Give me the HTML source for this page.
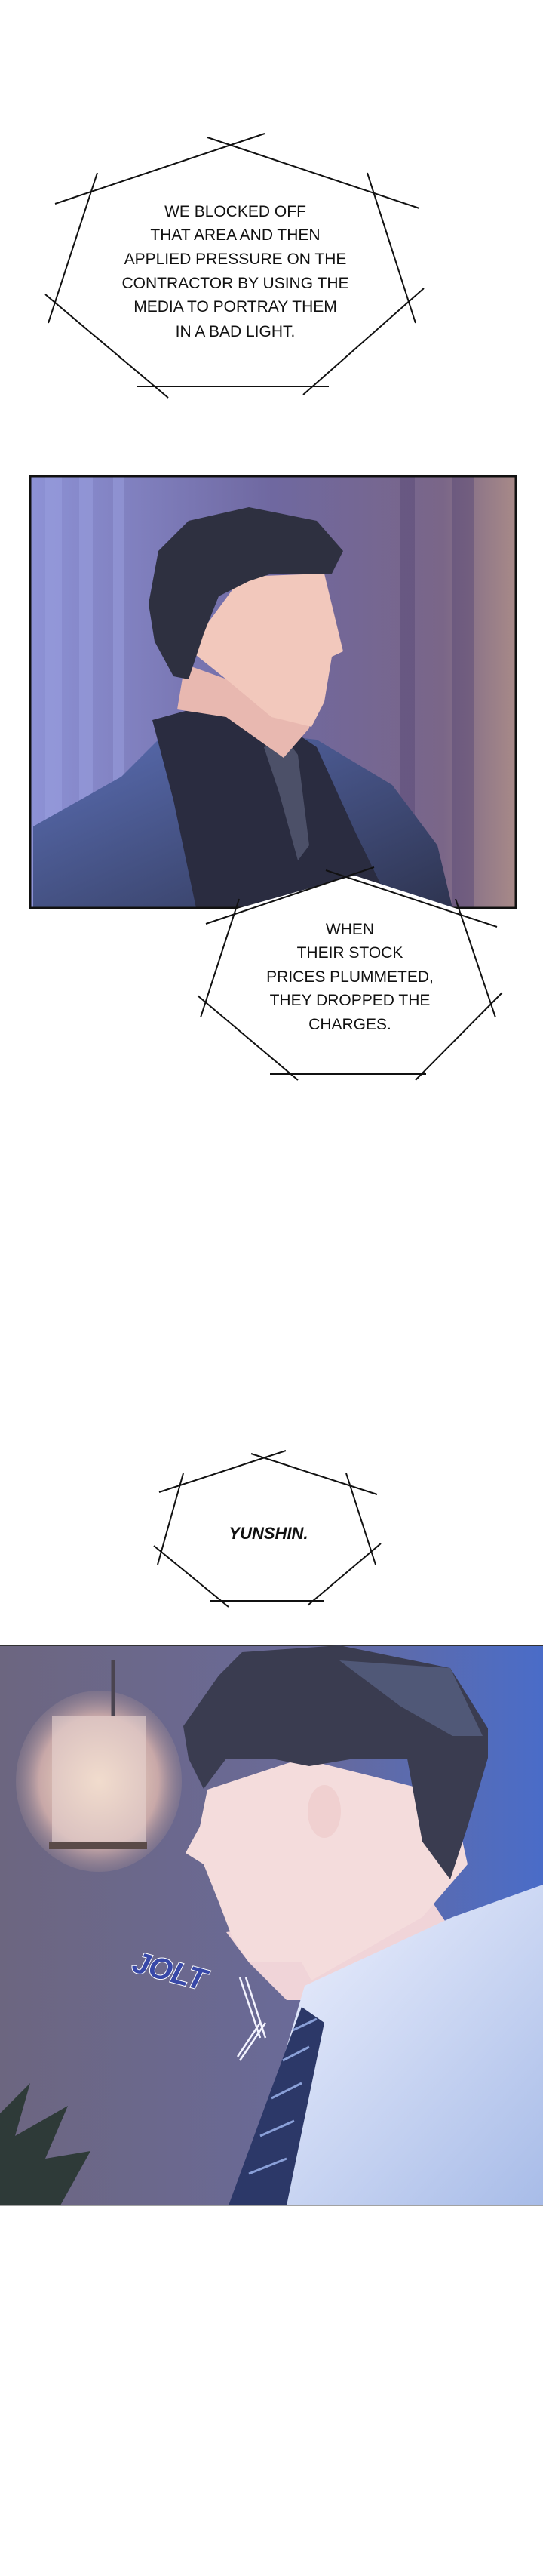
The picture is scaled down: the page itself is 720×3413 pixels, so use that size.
<!DOCTYPE html>
<html><head><meta charset="utf-8"><style>
html,body{margin:0;padding:0;background:#fff;}
svg{display:block;}
</style></head><body>
<svg width="720" height="3413" viewBox="0 0 720 3413" xmlns="http://www.w3.org/2000/svg">
<defs>
<linearGradient id="bg1" x1="0" y1="0" x2="1" y2="0">
<stop offset="0" stop-color="#8d92d6"/><stop offset="0.5" stop-color="#6f68a0"/><stop offset="0.85" stop-color="#7a6688"/><stop offset="1" stop-color="#a88a88"/>
</linearGradient>
<linearGradient id="bg2" x1="0" y1="0" x2="1" y2="0">
<stop offset="0" stop-color="#6c6680"/><stop offset="0.55" stop-color="#6a6a98"/><stop offset="1" stop-color="#4a6cc8"/>
</linearGradient>
<linearGradient id="suit" x1="0" y1="0" x2="1" y2="1">
<stop offset="0" stop-color="#5c70b8"/><stop offset="1" stop-color="#2e3450"/>
</linearGradient>
<radialGradient id="lamp" cx="0.5" cy="0.5" r="0.6">
<stop offset="0" stop-color="#ffe8c8"/><stop offset="0.6" stop-color="#c8a8a8"/><stop offset="1" stop-color="#6c6680" stop-opacity="0"/>
</radialGradient>
<linearGradient id="shirt" x1="0" y1="0" x2="1" y2="1">
<stop offset="0" stop-color="#f2f4ff"/><stop offset="1" stop-color="#a8bce8"/>
</linearGradient>
</defs>

<g stroke="#111" stroke-width="2" fill="none">
<line x1="73" y1="270" x2="351" y2="177"/>
<line x1="275" y1="182" x2="556" y2="276"/>
<line x1="129" y1="229" x2="64" y2="428"/>
<line x1="487" y1="229" x2="551" y2="428"/>
<line x1="60" y1="390" x2="223" y2="527"/>
<line x1="562" y1="382" x2="402" y2="523"/>
<line x1="181" y1="512" x2="436" y2="512"/>
</g>
<g font-family="Liberation Sans, sans-serif" font-size="21" fill="#111" text-anchor="middle">
<text x="312" y="287">WE BLOCKED OFF</text>
<text x="312" y="318">THAT AREA AND THEN</text>
<text x="312" y="350">APPLIED PRESSURE ON THE</text>
<text x="312" y="382">CONTRACTOR BY USING THE</text>
<text x="312" y="413">MEDIA TO PORTRAY THEM</text>
<text x="312" y="446">IN A BAD LIGHT.</text>
</g>

<rect x="40" y="631" width="644" height="572" fill="url(#bg1)"/>
<g fill="#9aa0e0" opacity="0.5">
<rect x="60" y="631" width="22" height="572"/><rect x="105" y="631" width="18" height="572"/><rect x="150" y="631" width="14" height="572"/>
</g>
<g fill="#5a4a78" opacity="0.5">
<rect x="530" y="631" width="20" height="572"/><rect x="600" y="631" width="28" height="572"/>
</g>
<path d="M44 1095 L161 1029 L230 960 L420 980 L520 1040 L580 1120 L600 1203 L44 1203 Z" fill="url(#suit)"/>
<path d="M202 954 L290 930 L376 960 L420 990 L470 1100 L520 1203 L260 1203 L230 1060 Z" fill="#2a2c40"/>
<path d="M350 990 L380 980 L395 1000 L410 1120 L395 1140 L370 1050 Z" fill="#4c5068"/>
<path d="M245 880 L235 940 L300 950 L376 1004 L410 965 L413 940 Z" fill="#e8b8b0"/>
<path d="M321 764 L430 760 L455 863 L440 870 L430 930 L413 963 L360 950 L300 900 L250 860 Z" fill="#f2c8bc"/>
<ellipse cx="245" cy="838" rx="18" ry="28" fill="#e8b0a8"/>
<path d="M197 800 L210 730 L250 690 L330 672 L420 690 L455 730 L440 760 L360 760 L330 770 L290 790 L270 840 L250 900 L230 896 L205 850 Z" fill="#2e3040"/>
<rect x="40" y="631" width="644" height="572" fill="none" stroke="#111" stroke-width="3"/>

<path d="M300 1208 L470 1160 L640 1215 L650 1320 L555 1420 L370 1420 L275 1330 Z" fill="#fff"/>
<g stroke="#111" stroke-width="2" fill="none">
<line x1="273" y1="1224" x2="496" y2="1149"/>
<line x1="432" y1="1153" x2="659" y2="1228"/>
<line x1="317" y1="1191" x2="266" y2="1348"/>
<line x1="604" y1="1191" x2="657" y2="1348"/>
<line x1="262" y1="1319" x2="395" y2="1431"/>
<line x1="666" y1="1315" x2="551" y2="1431"/>
<line x1="358" y1="1423" x2="565" y2="1423"/>
</g>
<g font-family="Liberation Sans, sans-serif" font-size="21" fill="#111" text-anchor="middle">
<text x="464" y="1238">WHEN</text>
<text x="464" y="1269">THEIR STOCK</text>
<text x="464" y="1301">PRICES PLUMMETED,</text>
<text x="464" y="1332">THEY DROPPED THE</text>
<text x="464" y="1364">CHARGES.</text>
</g>

<g stroke="#111" stroke-width="2" fill="none">
<line x1="211" y1="1977" x2="379" y2="1922"/>
<line x1="333" y1="1926" x2="500" y2="1980"/>
<line x1="243" y1="1952" x2="209" y2="2073"/>
<line x1="459" y1="1952" x2="498" y2="2073"/>
<line x1="204" y1="2048" x2="303" y2="2129"/>
<line x1="505" y1="2045" x2="408" y2="2127"/>
<line x1="278" y1="2121" x2="429" y2="2121"/>
</g>
<text x="356" y="2039" font-family="Liberation Sans, sans-serif" font-size="22" font-weight="bold" font-style="italic" fill="#111" text-anchor="middle">YUNSHIN.</text>

<rect x="0" y="2180" width="720" height="742" fill="url(#bg2)"/>
<line x1="0" y1="2180" x2="720" y2="2180" stroke="#333" stroke-width="2"/>
<ellipse cx="131" cy="2360" rx="110" ry="120" fill="url(#lamp)"/>
<rect x="69" y="2273" width="124" height="175" fill="#e8d4d0" opacity="0.6"/>
<line x1="150" y1="2200" x2="150" y2="2273" stroke="#4a4450" stroke-width="5"/>
<rect x="65" y="2440" width="130" height="10" fill="#5a4a48"/>
<path d="M0 2800 L40 2760 L20 2830 L90 2790 L60 2860 L120 2850 L80 2922 L0 2922 Z" fill="#2e3a38"/>
<path d="M300 2560 L420 2540 L560 2500 L600 2560 L430 2650 L380 2650 L330 2600 Z" fill="#f0d4d8"/>
<path d="M404 2631 L600 2540 L720 2497 L720 2922 L330 2922 L360 2780 Z" fill="url(#shirt)"/>
<path d="M400 2659 L430 2680 L380 2922 L303 2922 Z" fill="#2c3868"/>
<g stroke="#8aa0d8" stroke-width="3"><line x1="330" y1="2880" x2="380" y2="2860"/><line x1="345" y1="2830" x2="390" y2="2810"/><line x1="360" y1="2780" x2="400" y2="2760"/><line x1="375" y1="2730" x2="410" y2="2712"/><line x1="388" y1="2690" x2="420" y2="2675"/></g>
<path d="M275 2371 L400 2330 L600 2380 L620 2470 L560 2540 L413 2624 L400 2600 L330 2600 L308 2567 L290 2520 L270 2470 L246 2455 L265 2420 Z" fill="#f4dcdc"/>
<ellipse cx="430" cy="2400" rx="22" ry="35" fill="#f0d0d0"/>
<path d="M243 2287 L290 2220 L321 2189 L450 2180 L597 2210 L647 2290 L647 2329 L620 2420 L597 2490 L560 2440 L540 2330 L470 2330 L410 2340 L360 2330 L300 2330 L270 2370 L250 2330 Z" fill="#3a3c50"/>
<path d="M450 2200 L597 2210 L640 2300 L600 2300 L530 2260 Z" fill="#5a6488" opacity="0.7"/>
<text x="225" y="2625" transform="rotate(15 225 2610)" font-family="Liberation Sans, sans-serif" font-size="40" font-weight="bold" font-style="italic" fill="#3848a8" stroke="#fff" stroke-width="2" paint-order="stroke" text-anchor="middle">JOLT</text>
<g stroke="#f4f4ff" stroke-width="2.5" fill="none"><line x1="318" y1="2620" x2="345" y2="2700"/><line x1="326" y1="2620" x2="352" y2="2700"/><line x1="352" y1="2680" x2="318" y2="2730"/><line x1="345" y1="2680" x2="315" y2="2725"/></g>
<line x1="0" y1="2922" x2="720" y2="2922" stroke="#444" stroke-width="1"/>
</svg>
</body></html>
